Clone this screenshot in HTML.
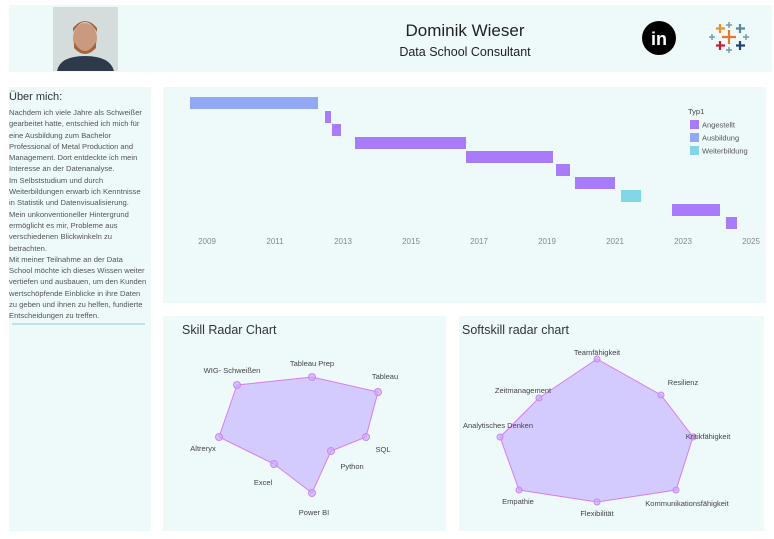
<!DOCTYPE html>
<html><head><meta charset="utf-8"><style>
html,body{margin:0;padding:0;background:#fff;width:774px;height:539px;overflow:hidden}
svg{display:block}
text{font-family:"Liberation Sans",sans-serif}
.about{position:absolute;left:9px;top:91px;width:145px;font-family:"Liberation Sans",sans-serif;font-size:7.6px;line-height:11.3px;color:#555;white-space:nowrap}
.about h3{margin:0 0 3px 0;font-size:11px;line-height:13px;font-weight:normal;color:#333}
</style></head><body>
<svg width="774" height="539" viewBox="0 0 774 539" style="position:absolute;left:0;top:0">
<rect x="9" y="5" width="763" height="67" fill="#eef9fa"/>
<rect x="53" y="7" width="65" height="64" fill="#d5dcdc"/>
<ellipse cx="85" cy="38" rx="12" ry="15" fill="#c99a80"/>
<path d="M73 32 Q85 12 97 32 L97 28 Q85 14 73 28Z" fill="#a0623a"/>
<path d="M74 42 Q85 60 96 42 L96 48 Q85 60 74 48Z" fill="#a5643c"/>
<path d="M57 71 Q60 56 85 56 Q110 56 114 71Z" fill="#2c3a4c"/>
<text x="465" y="36" font-size="17" fill="#222" text-anchor="middle">Dominik Wieser</text>
<text x="465" y="56" font-size="12.5" fill="#222" text-anchor="middle">Data School Consultant</text>
<circle cx="659" cy="38" r="17" fill="#000"/>
<text x="659" y="45" font-size="18" font-weight="bold" fill="#fff" text-anchor="middle">in</text>
<g stroke-width="2.2">
<path d="M729 30v14M722 37h14" stroke="#e8762c"/>
<path d="M720 24v9M716 28.5h9" stroke="#eb9129"/>
<path d="M740 24v9M736 28.5h9" stroke="#59879b"/>
<path d="M720 41v9M716 45.5h9" stroke="#c72035"/>
<path d="M740 41v9M736 45.5h9" stroke="#1f457e"/>
<path d="M729 22v6M726 25h6M729 47v6M726 50h6M712 34v6M709 37h6M746 34v6M743 37h6" stroke="#7099a6" stroke-width="1.4"/>
</g>
<rect x="9" y="87" width="142" height="444" fill="#eef9fa"/>
<line x1="12" y1="324" x2="145" y2="324" stroke="#a9dceb" stroke-width="1.5"/>
<rect x="163" y="87" width="603" height="216" fill="#eef9fa"/>
<rect x="190" y="97" width="128" height="12" fill="#93a8f4"/>
<rect x="325" y="111" width="6" height="12" fill="#a87bfb"/>
<rect x="332" y="124" width="9" height="12" fill="#a87bfb"/>
<rect x="355" y="137" width="111" height="12" fill="#a87bfb"/>
<rect x="466" y="151" width="87" height="12" fill="#a87bfb"/>
<rect x="556" y="164" width="14" height="12" fill="#a87bfb"/>
<rect x="575" y="177" width="40" height="12" fill="#a87bfb"/>
<rect x="621" y="190" width="20" height="12" fill="#83d5e8"/>
<rect x="672" y="204" width="48" height="12" fill="#a87bfb"/>
<rect x="726" y="217" width="11" height="12" fill="#a87bfb"/>
<g font-size="8" fill="#888" text-anchor="middle">
<text x="207" y="244">2009</text><text x="275" y="244">2011</text><text x="343" y="244">2013</text><text x="411" y="244">2015</text><text x="479" y="244">2017</text><text x="547" y="244">2019</text><text x="615" y="244">2021</text><text x="683" y="244">2023</text><text x="751" y="244">2025</text>
</g>
<text x="688" y="114" font-size="7.5" fill="#444">Typ1</text>
<rect x="690" y="120" width="9" height="9" fill="#a87bfb"/><text x="702" y="127.5" font-size="7.5" fill="#555">Angestellt</text>
<rect x="690" y="133" width="9" height="9" fill="#93a8f4"/><text x="702" y="140.5" font-size="7.5" fill="#555">Ausbildung</text>
<rect x="690" y="146" width="9" height="9" fill="#83d5e8"/><text x="702" y="153.5" font-size="7.5" fill="#555">Weiterbildung</text>
<rect x="163" y="316" width="283" height="215" fill="#eef9fa"/>
<text x="182" y="334" font-size="12.5" fill="#333">Skill Radar Chart</text>
<polygon points="237,385 312,377 378,392 366,437 331,451 312,493 274,464 219,437" fill="#d3cbfd" stroke="#d87cf5" stroke-width="1"/>
<g fill="#cfa9f8" fill-opacity="0.7" stroke="#c68af5"><circle cx="237" cy="385" r="3.5"/><circle cx="312" cy="377" r="3.5"/><circle cx="378" cy="392" r="3.5"/><circle cx="366" cy="437" r="3.5"/><circle cx="331" cy="451" r="3.5"/><circle cx="312" cy="493" r="3.5"/><circle cx="274" cy="464" r="3.5"/><circle cx="219" cy="437" r="3.5"/></g>
<g font-size="7.5" fill="#444" text-anchor="middle">
<text x="232" y="373">WIG- Schweißen</text><text x="312" y="366">Tableau Prep</text><text x="385" y="379">Tableau</text><text x="383" y="452">SQL</text><text x="352" y="469">Python</text><text x="314" y="515">Power BI</text><text x="263" y="485">Excel</text><text x="203" y="451">Altreryx</text>
</g>
<rect x="459" y="316" width="305" height="215" fill="#eef9fa"/>
<text x="462" y="334" font-size="12.5" fill="#333">Softskill radar chart</text>
<polygon points="597,359 661,395 693,437 676,490 597,502 519,490 500,437 539,398" fill="#d3cbfd" stroke="#d87cf5" stroke-width="1"/>
<g fill="#cfa9f8" fill-opacity="0.7" stroke="#c68af5"><circle cx="597" cy="359" r="3"/><circle cx="661" cy="395" r="3"/><circle cx="693" cy="437" r="3"/><circle cx="676" cy="490" r="3"/><circle cx="597" cy="502" r="3"/><circle cx="519" cy="490" r="3"/><circle cx="500" cy="437" r="3"/><circle cx="539" cy="398" r="3"/></g>
<g font-size="7.5" fill="#444" text-anchor="middle">
<text x="597" y="355">Teamfähigkeit</text><text x="683" y="385">Resilienz</text><text x="708" y="439">Kritikfähigkeit</text><text x="687" y="506">Kommunikationsfähigkeit</text><text x="597" y="516">Flexibilität</text><text x="518" y="504">Empathie</text><text x="498" y="428">Analytisches Denken</text><text x="523" y="393">Zeitmanagement</text>
</g>
</svg>
<div class="about"><h3>Über mich:</h3>Nachdem ich viele Jahre als Schweißer<br>gearbeitet hatte, entschied ich mich für<br>eine Ausbildung zum Bachelor<br>Professional of Metal Production and<br>Management. Dort entdeckte ich mein<br>Interesse an der Datenanalyse.<br>Im Selbststudium und durch<br>Weiterbildungen erwarb ich Kenntnisse<br>in Statistik und Datenvisualisierung.<br>Mein unkonventioneller Hintergrund<br>ermöglicht es mir, Probleme aus<br>verschiedenen Blickwinkeln zu<br>betrachten.<br>Mit meiner Teilnahme an der Data<br>School möchte ich dieses Wissen weiter<br>vertiefen und ausbauen, um den Kunden<br>wertschöpfende Einblicke in ihre Daten<br>zu geben und ihnen zu helfen, fundierte<br>Entscheidungen zu treffen.</div>
</body></html>
